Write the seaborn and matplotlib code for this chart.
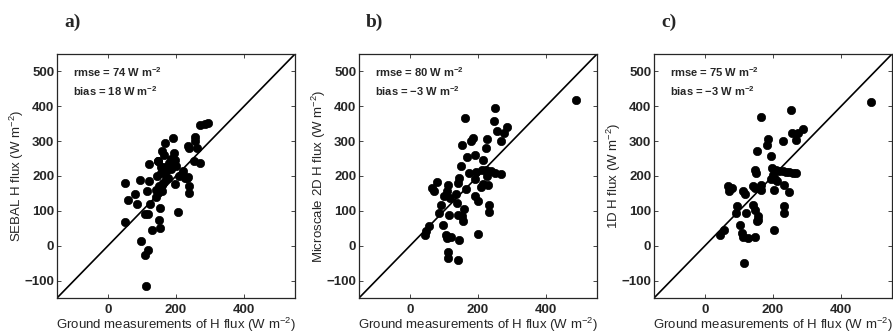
import numpy as np
import pandas as pd
import matplotlib
matplotlib.use("Agg")
import matplotlib.pyplot as plt
import seaborn as sns

# panel a) SEBAL vs ground
ground_a = [50, 51, 60, 80, 85, 95, 96, 108, 110, 113, 117, 114, 119, 120, 121, 123, 128,
            141, 146, 149, 152, 152, 144, 146, 148, 155, 160, 160, 162, 159, 164, 168, 172,
            175, 180, 185, 190, 194, 197, 199, 198, 205, 209, 214, 220, 225, 233, 236, 238,
            238, 235, 237, 256, 257, 262, 252, 272, 272, 284, 293, 140, 150, 155, 165, 170, 185]
sebal_a = [180, 69, 130, 147, 120, 188, 14, 92, -27, -117, -11, 158, 92, 187, 233, 120, 45,
           140, 151, 73, 52, 107, 199, 242, 244, 225, 175, 156, 180, 271, 260, 295, 213,
           193, 238, 250, 309, 266, 247, 230, 177, 97, 199, 204, 213, 195, 194, 197, 170,
           151, 285, 279, 311, 300, 281, 242, 236, 345, 348, 351, 160, 170, 210, 225, 190, 220]

# panel b) Microscale 2D vs ground
ground_b = [487, 250, 248, 255, 285, 277, 268, 227, 224, 216, 163, 152, 186, 180, 167, 192,
            149, 173, 193, 211, 224, 238, 250, 268, 226, 216, 209, 229, 190, 164, 144, 142,
            79, 64, 72, 113, 108, 100, 117, 135, 137, 91, 86, 159, 115, 142, 154, 155, 190,
            200, 231, 231, 98, 106, 110, 122, 55, 48, 44, 200, 144, 113, 113, 142]
micro_b = [417, 394, 357, 330, 341, 322, 300, 307, 281, 245, 365, 290, 308, 300, 254, 260,
           228, 209, 211, 218, 218, 214, 209, 206, 199, 178, 169, 175, 190, 163, 194, 180,
           183, 166, 156, 173, 156, 142, 136, 149, 123, 118, 94, 105, 89, 89, 84, 70, 142,
           127, 116, 96, 58, 32, 22, 26, 56, 41, 30, 34, 17, -19, -35, -40]

# panel c) 1D vs ground
ground_c = [487, 253, 164, 287, 256, 274, 268, 229, 186, 183, 154, 195, 147, 150, 198, 200,
            210, 219, 229, 239, 248, 258, 268, 193, 205, 212, 231, 203, 248, 166, 142, 147,
            164, 79, 68, 72, 113, 118, 94, 91, 121, 140, 147, 157, 157, 152, 231, 231, 103,
            108, 113, 125, 147, 202, 45, 55, 115]
oned_c = [412, 390, 368, 336, 324, 322, 304, 300, 305, 290, 271, 257, 218, 209, 223, 204,
          218, 214, 214, 212, 211, 209, 209, 190, 190, 185, 175, 161, 153, 175, 172, 166,
          161, 166, 170, 156, 156, 147, 115, 94, 94, 118, 103, 84, 75, 70, 115, 94, 58,
          36, 25, 22, 25, 44, 32, 46, -50]

panels = [
    ("a)", ground_a, sebal_a, "SEBAL H flux (W m$^{-2}$)", "74", "18"),
    ("b)", ground_b, micro_b, "Microscale 2D H flux (W m$^{-2}$)", "80", "\u22123"),
    ("c)", ground_c, oned_c, "1D H flux (W m$^{-2}$)", "75", "\u22123"),
]

sns.set_theme(style="ticks")
plt.rcParams["font.family"] = ["Liberation Sans", "DejaVu Sans"]
plt.rcParams["mathtext.fontset"] = "custom"
plt.rcParams["mathtext.rm"] = "Liberation Sans"
plt.rcParams["mathtext.bf"] = "Liberation Sans:bold"
plt.rcParams["mathtext.default"] = "rm"

W, H = 893, 334
fig = plt.figure(figsize=(W / 100, H / 100), dpi=100)
lefts = [57, 359, 654]
for (tag, gx, gy, ylab, rmse, bias), left in zip(panels, lefts):
    ax = fig.add_axes([left / W, (H - 298) / H, 238 / W, 244 / H])
    df = pd.DataFrame({"ground": gx, "model": gy})
    sns.scatterplot(data=df, x="ground", y="model", ax=ax, color="black",
                    s=36, edgecolor="black", linewidth=0.5, zorder=3)
    ax.axline((0, 0), slope=1, color="black", lw=1.2)
    ax.set_xlim(-150, 550)
    ax.set_ylim(-150, 550)
    ax.set_xticks([0, 200, 400])
    ax.set_yticks([-100, 0, 100, 200, 300, 400, 500])
    ax.tick_params(direction="in", top=True, right=True, length=3, width=0.6,
                   labelsize=9.5)
    ax.tick_params(axis="x", pad=4)
    ax.tick_params(axis="y", pad=2)
    for lab in ax.get_xticklabels() + ax.get_yticklabels():
        lab.set_fontweight("bold")
    for sp in ax.spines.values():
        sp.set_linewidth(0.9)
    ax.set_xlabel("Ground measurements of H flux (W m$^{-2}$)", fontsize=9.5, labelpad=0)
    ax.set_ylabel(ylab, fontsize=9.5)
    ax.yaxis.set_label_coords(-0.13, 0.5)
    ax.text(0.066, 0.925, f"rmse = {rmse} W m$^{{\\mathbf{{-2}}}}$", transform=ax.transAxes,
            fontsize=8, fontweight="bold", va="center", ha="left")
    ax.text(0.066, 0.85, f"bias = {bias} W m$^{{\\mathbf{{-2}}}}$", transform=ax.transAxes,
            fontsize=8, fontweight="bold", va="center", ha="left")
    ax.text(0.03, 1.13, tag, transform=ax.transAxes, fontsize=14, fontweight="bold",
            family="Liberation Serif", va="center", ha="left")

fig.savefig("out.png", dpi=100)
